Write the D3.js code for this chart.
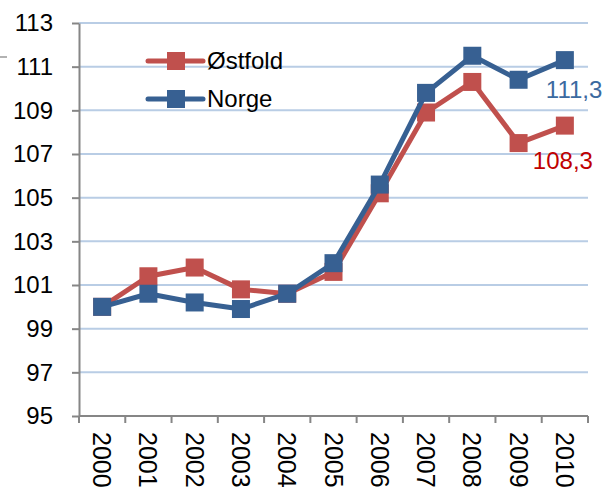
<!DOCTYPE html>
<meta charset="utf-8">
<script src="https://d3js.org/d3.v7.min.js"></script>
<style type="text/css">
	body { margin: 0; background: #fff; }
	svg { display: block; font-family: "Liberation Sans", Arial, sans-serif; }
	.grid line { stroke: #b9cde5; stroke-width: 2px; }
	.axis path, .axis line { stroke: #868686; stroke-width: 2px; }
	.axis text { font-size: 24px; fill: #000; }
	.x.axis text { font-size: 25px; }
	.legend text { font-size: 24px; fill: #000; }
</style>
<body></body>
<script>

// data
var years = ["2000","2001","2002","2003","2004","2005","2006","2007","2008","2009","2010"];
var ostfold = [100, 101.4, 101.8, 100.8, 100.6, 101.6, 105.2, 108.9, 110.3, 107.5, 108.3];
var norge = [100, 100.6, 100.2, 99.9, 100.6, 102.0, 105.6, 109.8, 111.5, 110.4, 111.3];
var yTicks = [95, 97, 99, 101, 103, 105, 107, 109, 111, 113];
var seriesNames = ["Østfold", "Norge"];

var colors = { "Østfold": "#c0504d", "Norge": "#376092" };
var labelColors = { "Østfold": "#c00000", "Norge": "#3b6aa0" };

var W = 613, H = 490;
var margin = {top: 23, right: 25, bottom: 74, left: 79};
var width = W - margin.left - margin.right,
    height = H - margin.top - margin.bottom;

var svg = d3.select("body").append("svg")
    .attr("width", W)
    .attr("height", H);

// stray little dash at top left
svg.append("line")
  .attr("x1", 0).attr("x2", 7).attr("y1", 57).attr("y2", 57)
  .style("stroke", "#999").style("stroke-width", 1.5);

var g = svg.append("g")
    .attr("transform", "translate(" + margin.left + "," + margin.top + ")");

// scales
var xScale = d3.scaleBand()
  .domain(years)
  .range([0, width]);

var yScale = d3.scaleLinear()
  .domain([95, 113])
  .range([height, 0]);

var xc = function(d) { return xScale(d) + xScale.bandwidth() / 2; };

// grid
g.append("g").attr("class", "grid")
  .selectAll("line")
  .data(yTicks.filter(function(d) { return d > 95; }))
  .enter().append("line")
  .attr("x1", 0).attr("x2", width)
  .attr("y1", function(d) { return yScale(d); })
  .attr("y2", function(d) { return yScale(d); });

// axes
var yAxis = d3.axisLeft(yScale)
  .tickValues(yTicks)
  .tickSize(7)
  .tickSizeOuter(0)
  .tickPadding(19);

g.append("g")
  .attr("class", "y axis")
  .call(yAxis);

// x axis with ticks at band edges
var xEdges = d3.scaleLinear().domain([0, years.length]).range([0, width]);
var xg = g.append("g")
  .attr("class", "x axis")
  .attr("transform", "translate(0," + height + ")");

xg.append("path")
  .attr("d", "M0,0H" + width)
  .style("fill", "none");

xg.selectAll(".tick")
  .data(d3.range(years.length + 1))
  .enter().append("line")
  .attr("x1", function(i) { return xEdges(i); })
  .attr("x2", function(i) { return xEdges(i); })
  .attr("y1", 0).attr("y2", 7);

xg.selectAll("text")
  .data(years)
  .enter().append("text")
  .attr("transform", function(d) { return "translate(" + xc(d) + ",16) rotate(90)"; })
  .attr("dominant-baseline", "central")
  .attr("text-anchor", "start")
  .text(function(d) { return d; });

// lines
var series = [
  {name: "Østfold", values: ostfold},
  {name: "Norge", values: norge}
];

var line = d3.line()
  .x(function(d, i) { return xc(years[i]); })
  .y(function(d) { return yScale(d); });

var msize = 18;

series.forEach(function(s) {
  g.append("path")
    .datum(s.values)
    .attr("d", line)
    .style("fill", "none")
    .style("stroke", colors[s.name])
    .style("stroke-width", 5)
    .style("stroke-linejoin", "round");

  g.selectAll(".m" + s.name)
    .data(s.values)
    .enter().append("rect")
    .attr("x", function(d, i) { return xc(years[i]) - msize / 2; })
    .attr("y", function(d) { return yScale(d) - msize / 2; })
    .attr("width", msize).attr("height", msize)
    .style("fill", colors[s.name]);

  var last = s.values[s.values.length - 1];
  g.append("text")
    .attr("x", xc(years[years.length - 1]) - (s.name === "Norge" ? 19 : 32))
    .attr("y", yScale(last) + (s.name === "Norge" ? 38 : 43))
    .style("font-size", "24px")
    .style("fill", labelColors[s.name])
    .text(String(last).replace(".", ","));
});

// legend
var legend = svg.append("g").attr("class", "legend");
seriesNames.forEach(function(name, i) {
  var ly = 61 + i * 38;
  legend.append("line")
    .attr("x1", 148).attr("x2", 203)
    .attr("y1", ly).attr("y2", ly)
    .style("stroke", colors[name])
    .style("stroke-width", 5)
    .style("stroke-linecap", "round");
  legend.append("rect")
    .attr("x", 176 - msize / 2).attr("y", ly - msize / 2)
    .attr("width", msize).attr("height", msize)
    .style("fill", colors[name]);
  legend.append("text")
    .attr("x", 207).attr("y", ly + 8)
    .text(name);
});
</script>
